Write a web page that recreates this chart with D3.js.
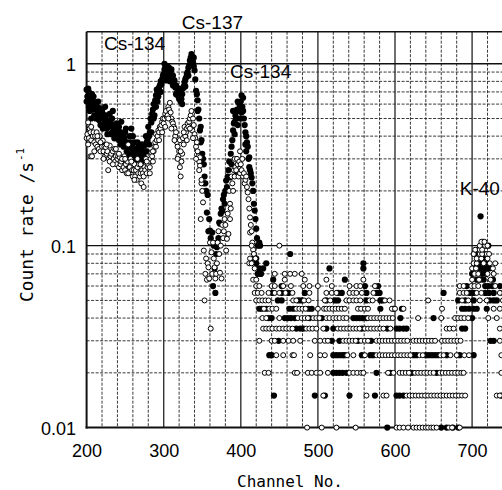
<!DOCTYPE html>
<html><head><meta charset="utf-8">
<script src="https://cdn.jsdelivr.net/npm/d3@7"></script>
<style>body{margin:0;background:#fff;} svg{display:block;}</style>
</head><body>
<script>
// ---------- data ----------
const xTicks = [200, 300, 400, 500, 600, 700];
const yTicks = [0.01, 0.1, 1];
const yTickLabels = ["0.01", "0.1", "1"];
const peakNames = ["Cs-134", "Cs-137", "Cs-134", "K-40"];

// quantized count-rate levels (low region)
const levels = [0.01, 0.015, 0.02, 0.025, 0.03, 0.035, 0.04, 0.045, 0.05, 0.055,
  0.06, 0.065, 0.07, 0.075, 0.08, 0.085, 0.09, 0.095, 0.1, 0.105];

// channels of filled points at each level
const filledRows = [
  [590, 660, 667, 675, 682],
  [443, 496, 509, 541, 574, 602, 606, 611, 738],
  [520, 524, 528, 532, 537, 576, 594, 622, 654],
  [437, 440, 520, 524, 528, 532, 535, 557, 568, 572, 624, 628, 640, 644, 648, 652, 656, 667, 684, 702],
  [449, 518, 528, 552, 569, 724, 728],
  [472, 477, 481, 511, 520, 557, 590, 602, 606, 611, 615, 687, 691],
  [436, 440, 457, 461, 465, 470, 489, 505, 546, 550, 554, 558, 563, 607, 650, 700],
  [424, 427, 433, 463, 468, 488, 492, 581, 598, 609, 687, 691, 696, 702, 706, 719],
  [448, 453, 475, 479, 511, 522, 526, 563, 581, 584, 682, 691, 702, 723, 728, 732],
  [441, 453, 462, 483, 526, 531, 563, 576, 580, 663, 697, 702, 717, 722, 728, 740],
  [453, 561, 578, 693, 717, 721, 726, 736],
  [442, 535, 706, 710, 715, 727],
  [422, 426, 700, 713, 718],
  [429, 515, 559, 710, 716, 722],
  [433, 559, 710, 718],
  [416, 420, 708, 715],
  [464, 703, 716],
  [708],
  [425, 717, 721],
  [714]
];

// channels of open points at each level
const openRows = [
  [486, 505, 524, 549, 602, 606, 611, 617, 624, 628, 632, 636, 640, 643, 647, 650, 654, 670, 674, 684],
  [507, 563, 585, 589, 615, 619, 623, 627, 631, 635, 639, 643, 647, 651, 655, 659, 663, 667, 671, 675, 679, 683, 687, 691, 732, 736],
  [431, 436, 470, 473, 487, 492, 498, 503, 513, 541, 546, 551, 556, 559, 591, 598, 606, 610, 614, 618, 626, 630, 634, 638, 642, 646, 650, 658, 662, 666, 670, 674, 678, 682, 686, 689, 738],
  [446, 455, 467, 469, 490, 503, 509, 538, 546, 561, 576, 580, 584, 588, 592, 596, 600, 604, 608, 612, 616, 620, 632, 636, 659, 663, 672, 680, 690, 696, 738],
  [424, 440, 444, 455, 462, 468, 477, 496, 503, 509, 513, 533, 537, 541, 545, 549, 556, 561, 565, 576, 580, 584, 588, 592, 596, 600, 604, 608, 612, 616, 624, 628, 632, 636, 640, 644, 648, 652, 661, 665, 669, 673, 677, 681, 685, 736],
  [429, 433, 437, 441, 446, 450, 455, 459, 463, 467, 485, 489, 493, 498, 507, 526, 530, 534, 538, 542, 546, 550, 554, 561, 565, 569, 573, 577, 581, 585, 594, 667, 671, 676, 736],
  [428, 433, 450, 474, 479, 483, 487, 494, 498, 502, 511, 515, 520, 524, 528, 533, 537, 565, 569, 573, 577, 581, 585, 589, 593, 597, 630, 660, 678, 682, 686, 690, 695, 721, 732],
  [430, 437, 441, 446, 472, 476, 480, 484, 500, 508, 511, 515, 519, 523, 527, 531, 535, 552, 556, 561, 565, 596, 600, 611, 661, 728, 736],
  [420, 424, 428, 432, 436, 468, 472, 482, 488, 509, 516, 537, 541, 546, 550, 555, 567, 571, 587, 593, 643, 687, 695, 710, 719, 740],
  [418, 422, 427, 436, 444, 450, 458, 467, 489, 511, 518, 524, 541, 546, 550, 557, 572, 684, 689, 693, 706, 712, 736],
  [420, 424, 440, 444, 455, 465, 481, 489, 500, 518, 541, 550, 555, 574, 684, 689, 699, 703, 708, 730],
  [416, 420, 457, 483, 511, 559, 700, 709, 724],
  [444, 457, 464, 470, 479, 703, 708, 720, 728],
  [418, 700, 705, 727],
  [411, 414, 702, 706, 715, 723, 730],
  [412, 706, 712, 720],
  [702, 710, 713, 719, 722],
  [704, 710, 713],
  [414, 450, 710, 717, 720],
  [712, 716]
];

// [channel, count rate] – peak region, filled series
const filledPeak = [[200,0.72],[200,0.62],[201,0.66],[202,0.73],[203,0.58],[204,0.55],[205,0.64],[206,0.6],[207,0.68],[208,0.56],[209,0.62],[210,0.52],[211,0.58],[212,0.5],[213,0.6],[214,0.55],[215,0.52],[216,0.49],[217,0.57],[218,0.46],[219,0.5],[220,0.55],[221,0.53],[222,0.45],[223,0.47],[224,0.5],[225,0.52],[226,0.44],[227,0.49],[228,0.46],[229,0.45],[230,0.476],[231,0.48],[232,0.41],[233,0.42],[234,0.55],[235,0.44],[236,0.46],[237,0.39],[238,0.44],[239,0.47],[240,0.42],[241,0.43],[242,0.38],[243,0.4],[244,0.36],[245,0.48],[246,0.37],[247,0.41],[248,0.35],[249,0.39],[250,0.42],[251,0.36],[252,0.33],[253,0.37],[254,0.35],[255,0.34],[256,0.4],[257,0.32],[258,0.44],[259,0.35],[260,0.33],[261,0.31],[262,0.37],[263,0.34],[264,0.325],[265,0.3],[266,0.33],[267,0.36],[268,0.31],[269,0.3],[270,0.32],[271,0.34],[272,0.29],[273,0.325],[274,0.31],[275,0.355],[276,0.33],[277,0.4],[278,0.37],[279,0.38],[280,0.45],[281,0.4],[282,0.42],[283,0.5],[284,0.476],[285,0.53],[286,0.56],[287,0.6],[288,0.52],[289,0.63],[290,0.67],[290,0.58],[291,0.72],[292,0.7],[293,0.66],[294,0.74],[295,0.76],[296,0.8],[297,0.77],[298,0.82],[299,0.86],[299,0.84],[300,0.88],[301,0.93],[301,1.0],[302,0.98],[303,0.81],[304,0.9],[305,0.97],[306,0.92],[307,0.95],[308,0.88],[309,0.9],[310,0.93],[311,0.83],[312,0.86],[313,0.78],[314,0.81],[315,0.74],[316,0.76],[317,0.68],[318,0.7],[319,0.66],[320,0.73],[321,0.72],[322,0.62],[323,0.64],[324,0.68],[325,0.73],[326,0.75],[327,0.79],[328,0.82],[329,0.84],[330,0.88],[331,0.9],[332,0.95],[333,0.98],[334,1.04],[335,1.08],[336,1.13],[337,1.1],[338,1.02],[339,0.97],[340,0.92],[341,0.82],[342,0.71],[343,0.68],[344,0.63],[345,0.56],[346,0.5],[347,0.43],[348,0.45],[349,0.38],[350,0.32],[351,0.3],[352,0.28],[353,0.24],[354,0.22],[355,0.2],[356,0.152],[357,0.19],[358,0.12],[359,0.14],[360,0.121],[361,0.11],[362,0.104],[363,0.118],[364,0.06],[365,0.1],[366,0.075],[367,0.055],[368,0.09],[369,0.098],[370,0.104],[371,0.11],[372,0.134],[373,0.132],[374,0.15],[375,0.16],[376,0.155],[377,0.18],[378,0.19],[379,0.17],[380,0.2],[381,0.228],[382,0.21],[383,0.24],[384,0.26],[385,0.29],[386,0.237],[387,0.32],[388,0.35],[389,0.38],[390,0.43],[390,0.55],[391,0.47],[392,0.41],[393,0.52],[394,0.5],[394,0.243],[395,0.56],[396,0.46],[397,0.55],[398,0.6],[399,0.575],[400,0.62],[401,0.67],[401,0.54],[402,0.58],[403,0.65],[404,0.5],[405,0.46],[406,0.42],[407,0.4],[407,0.33],[408,0.37],[409,0.35],[410,0.3],[411,0.306],[411,0.27],[412,0.26],[413,0.25],[414,0.237],[415,0.22],[416,0.2],[417,0.17],[418,0.156],[418,0.086],[419,0.14],[420,0.124],[420,0.08],[421,0.11],[422,0.1],[424,0.104],[424,0.075],[426,0.07],[711,0.145]];

// extra scattered filled points in the peak region
const filledScatter = [[203,0.7],[206,0.5],[209,0.66],[212,0.58],[215,0.62],[218,0.54],[221,0.44],[224,0.58],[227,0.41],[230,0.53],[233,0.5],[236,0.39],[239,0.4],[242,0.45],[245,0.42],[248,0.4],[251,0.44],[254,0.31],[257,0.37],[260,0.4],[263,0.29],[266,0.37],[269,0.34],[272,0.36],[275,0.3],[278,0.33],[281,0.36],[284,0.42],[287,0.5],[292,0.62],[296,0.7],[304,0.84],[308,0.8],[312,0.76],[316,0.68],[320,0.64],[324,0.6],[328,0.75],[332,0.86],[336,0.98],[339,1.08],[344,0.55],[348,0.37],[352,0.22],[388,0.28],[392,0.48],[396,0.62],[399,0.5],[403,0.55],[406,0.36]];

// [channel, count rate] – peak region, open series
const openPeak = [[200,0.39],[201,0.41],[202,0.476],[203,0.39],[204,0.44],[205,0.42],[205,0.31],[206,0.38],[207,0.31],[208,0.4],[209,0.42],[210,0.37],[211,0.4],[212,0.36],[213,0.42],[214,0.35],[215,0.38],[216,0.34],[217,0.4],[218,0.33],[219,0.37],[220,0.35],[221,0.378],[222,0.33],[223,0.35],[224,0.31],[225,0.347],[226,0.32],[227,0.33],[228,0.26],[229,0.3],[230,0.355],[231,0.31],[232,0.32],[233,0.29],[234,0.33],[235,0.3],[236,0.34],[237,0.29],[238,0.31],[239,0.28],[240,0.3],[241,0.31],[242,0.27],[243,0.306],[244,0.28],[245,0.29],[246,0.26],[247,0.3],[248,0.27],[249,0.31],[250,0.26],[251,0.28],[252,0.25],[253,0.29],[254,0.36],[255,0.27],[256,0.27],[257,0.3],[258,0.25],[259,0.26],[260,0.24],[261,0.26],[262,0.28],[263,0.24],[264,0.26],[265,0.23],[266,0.27],[267,0.25],[268,0.28],[269,0.24],[270,0.25],[271,0.22],[272,0.26],[273,0.25],[274,0.24],[275,0.27],[276,0.26],[277,0.3],[278,0.25],[279,0.27],[280,0.28],[281,0.29],[282,0.27],[283,0.3],[284,0.325],[285,0.31],[286,0.29],[287,0.33],[288,0.35],[289,0.37],[290,0.41],[291,0.38],[292,0.4],[293,0.43],[294,0.42],[295,0.45],[296,0.44],[297,0.46],[298,0.48],[299,0.5],[300,0.47],[301,0.5],[302,0.53],[303,0.55],[304,0.51],[305,0.52],[306,0.58],[307,0.56],[308,0.61],[309,0.54],[310,0.5],[311,0.48],[312,0.47],[313,0.45],[314,0.44],[315,0.4],[316,0.42],[317,0.37],[318,0.35],[319,0.31],[320,0.33],[321,0.38],[321,0.27],[322,0.24],[323,0.29],[324,0.32],[325,0.39],[326,0.36],[327,0.45],[328,0.4],[329,0.42],[330,0.44],[331,0.47],[332,0.45],[333,0.48],[334,0.5],[335,0.52],[336,0.55],[337,0.43],[338,0.5],[339,0.46],[340,0.41],[341,0.39],[342,0.35],[343,0.37],[344,0.33],[345,0.31],[346,0.29],[347,0.306],[347,0.275],[348,0.14],[349,0.22],[349,0.23],[350,0.2],[351,0.173],[352,0.094],[353,0.05],[354,0.07],[355,0.085],[356,0.065],[357,0.08],[358,0.076],[359,0.066],[360,0.104],[361,0.035],[362,0.092],[363,0.07],[364,0.104],[365,0.085],[366,0.076],[367,0.066],[368,0.07],[369,0.08],[370,0.104],[371,0.12],[372,0.09],[373,0.071],[374,0.1],[375,0.066],[376,0.13],[377,0.11],[378,0.12],[379,0.14],[380,0.13],[381,0.094],[382,0.109],[383,0.15],[384,0.116],[385,0.2],[386,0.17],[386,0.14],[387,0.16],[388,0.24],[389,0.22],[390,0.2],[391,0.26],[392,0.3],[392,0.24],[393,0.27],[394,0.26],[395,0.3],[396,0.28],[397,0.24],[398,0.29],[399,0.33],[399,0.25],[400,0.28],[401,0.26],[402,0.3],[403,0.24],[404,0.25],[405,0.22],[406,0.23],[407,0.24],[408,0.21],[409,0.196],[410,0.18],[411,0.16],[412,0.143],[412,0.118],[413,0.13],[414,0.12],[415,0.104],[416,0.095],[417,0.09],[419,0.085]];

// extra scattered open points in the peak region
const openScatter = [[202,0.36],[206,0.45],[210,0.33],[214,0.4],[218,0.37],[222,0.3],[226,0.36],[230,0.29],[234,0.28],[238,0.34],[242,0.32],[246,0.3],[250,0.3],[254,0.25],[258,0.29],[262,0.23],[266,0.3],[270,0.28],[274,0.21],[278,0.29],[282,0.25],[286,0.33],[290,0.35],[294,0.38],[298,0.42],[302,0.45],[306,0.5],[310,0.44],[314,0.38],[318,0.3],[322,0.33],[326,0.42],[330,0.38],[334,0.44],[338,0.39],[342,0.3],[346,0.26]];

// ---------- build point sets ----------
const fromRows = rows => rows.flatMap((chs, i) => chs.map(c => [c, levels[i]]));
const filledPts = filledPeak.concat(filledScatter, fromRows(filledRows));
const openPts = openPeak.concat(openScatter, fromRows(openRows));

// ---------- chart ----------
const W = 502, H = 490;
const svg = d3.select("body").append("svg").attr("width", W).attr("height", H);
const x = d3.scaleLinear().domain([200, 800]).range([86.6, 549.2]);
const y = d3.scaleLog().domain([0.01, 1.5]).range([427.6, 31.7]);
const [x0, x1] = x.range();
const [yb, yt] = y.range();

const xMinor = d3.range(200, 800, 20).filter(v => v % 100 !== 0);
const xMajor = d3.range(300, 801, 100);
const yMinor = yTicks.slice(0, 2).flatMap(t => d3.range(2, 10).map(k => k * t));

const grid = svg.append("g");
grid.selectAll("line.xm").data(xMinor).join("line")
  .attr("x1", d => x(d)).attr("x2", d => x(d)).attr("y1", yt).attr("y2", yb)
  .attr("stroke", "#222").attr("stroke-width", 0.9).attr("stroke-dasharray", "3,1.5");
grid.selectAll("line.ym").data(yMinor).join("line")
  .attr("x1", x0).attr("x2", x1).attr("y1", d => y(d)).attr("y2", d => y(d))
  .attr("stroke", "#222").attr("stroke-width", 0.9).attr("stroke-dasharray", "3,1.5");
grid.selectAll("line.xM").data(xMajor).join("line")
  .attr("x1", d => x(d)).attr("x2", d => x(d)).attr("y1", yt).attr("y2", yb)
  .attr("stroke", "#333").attr("stroke-width", 1.4);
grid.selectAll("line.yM").data(yTicks.slice(1)).join("line")
  .attr("x1", x0).attr("x2", x1).attr("y1", d => y(d)).attr("y2", d => y(d))
  .attr("stroke", "#111").attr("stroke-width", 1.4);

// frame
svg.append("line").attr("x1", x0).attr("x2", x1).attr("y1", yt).attr("y2", yt)
  .attr("stroke", "#111").attr("stroke-width", 1.5);
svg.append("line").attr("x1", x0).attr("x2", x0).attr("y1", yt).attr("y2", yb + 1)
  .attr("stroke", "#111").attr("stroke-width", 2);
svg.append("line").attr("x1", x0 - 1).attr("x2", x1).attr("y1", yb).attr("y2", yb)
  .attr("stroke", "#111").attr("stroke-width", 2);

// points
const visible = p => p[1] >= 0.01 && p[0] >= 200;
svg.append("g").selectAll("circle").data(filledPts.filter(visible)).join("circle")
  .attr("cx", d => x(d[0])).attr("cy", d => y(d[1])).attr("r", 3.1)
  .attr("fill", "#000");
svg.append("g").selectAll("circle").data(openPts.filter(visible)).join("circle")
  .attr("cx", d => x(d[0])).attr("cy", d => y(d[1])).attr("r", 2.5)
  .attr("fill", "#fff").attr("stroke", "#000").attr("stroke-width", 1);

// axes (labels only)
const fontSans = "'Liberation Sans', Arial, sans-serif";
const xAxis = svg.append("g").attr("transform", `translate(0,${yb})`)
  .call(d3.axisBottom(x).tickValues(xTicks).tickSize(0).tickPadding(16.5).tickFormat(d3.format("d")));
xAxis.select(".domain").remove();
xAxis.selectAll("text").attr("font-family", fontSans).attr("font-size", 18).attr("fill", "#000");

const yAxis = svg.append("g").attr("transform", `translate(${x0},0)`)
  .call(d3.axisLeft(y).tickValues(yTicks).tickSize(0).tickPadding(10.5)
    .tickFormat((d, i) => yTickLabels[i]));
yAxis.select(".domain").remove();
yAxis.selectAll("text").attr("font-family", fontSans).attr("font-size", 18).attr("fill", "#000").attr("dy", "0.36em");

// axis titles
const fontMono = "'DejaVu Sans Mono', 'Liberation Mono', monospace";
svg.append("text").attr("x", 290).attr("y", 487).attr("text-anchor", "middle")
  .attr("font-family", fontMono).attr("font-size", 16)
  .attr("textLength", 106).attr("lengthAdjust", "spacingAndGlyphs")
  .text("Channel No.");
const yt1 = svg.append("g").attr("transform", "translate(33,302) rotate(-90)");
yt1.append("text").attr("x", 0).attr("y", 0)
  .attr("font-family", fontMono).attr("font-size", 17)
  .attr("textLength", 140).attr("lengthAdjust", "spacingAndGlyphs")
  .text("Count rate /s");
yt1.append("text").attr("x", 141).attr("y", -9)
  .attr("font-family", fontMono).attr("font-size", 11)
  .text("-1");

// peak annotations (channel of text start, baseline in px)
const ann = [[222.5, 50], [323.5, 29], [386, 78], [684, 195]];
svg.append("g").selectAll("text").data(peakNames).join("text")
  .attr("x", (d, i) => x(ann[i][0])).attr("y", (d, i) => ann[i][1])
  .attr("font-family", fontSans).attr("font-size", 19).attr("fill", "#000")
  .text(d => d);
</script>
</body></html>
